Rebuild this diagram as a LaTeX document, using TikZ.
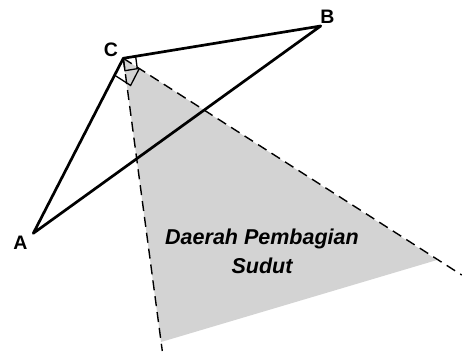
\documentclass[tikz,border=0pt]{standalone}
\usepackage{fontspec}
\setmainfont{Liberation Sans}
\usetikzlibrary{calc}
\definecolor{regiongray}{HTML}{D3D3D3}
\tikzset{
  side/.style={line width=2.7pt, line join=round, line cap=round},
  ray/.style={line width=1.4pt, dash pattern=on 10pt off 6pt},
  anglemark/.style={line width=1.3pt},
  vlabel/.style={font=\fontsize{19.5}{21}\selectfont\bfseries, inner sep=0pt},
  region/.style={font=\fontsize{21.5}{29}\selectfont\bfseries\itshape, align=center, inner sep=0pt}
}
\begin{document}
\begin{tikzpicture}[x=1pt,y=-1pt]
\useasboundingbox (0,0) rectangle (462,351);
\coordinate (C) at (123.3,58.3);
\coordinate (B) at (320.7,26);
\coordinate (A) at (33.3,233.3);
\coordinate (E1) at (162.3,351);
\coordinate (E2) at (461.7,275);
\coordinate (G1) at (161,342);
\coordinate (G2) at (437,260);
% shaded region
\fill[regiongray] (C) -- (G1) -- (G2) -- cycle;
% rays
\draw[ray] (C) -- (E1);
\draw[ray] (C) -- (E2);
% right-angle marks
\coordinate (P1) at ($(C)!12.5pt!(B)$);
\coordinate (P3) at ($(C)!12.5pt!(E1)$);
\coordinate (P2) at ($(P1)+(P3)-(C)$);
\draw[anglemark] (C) -- (P1) -- (P2) -- (P3) -- cycle;
\coordinate (Q1) at ($(C)!19pt!(A)$);
\coordinate (Q3) at ($(C)!19pt!(E2)$);
\coordinate (Q2) at ($(Q1)+(Q3)-(C)$);
\draw[anglemark] (Q1) -- (Q2) -- (Q3);
% triangle
\draw[side] (A) -- (C) -- (B) -- cycle;
% labels
\node[vlabel] (la) at (20.5,243) {A};
\node[vlabel] (lb) at (327.5,17) {B};
\node[vlabel] (lc) at (110.8,50) {C};
\node[region] (lr) at (262,251.5) {Daerah Pembagian\\Sudut};
\end{tikzpicture}
\end{document}
